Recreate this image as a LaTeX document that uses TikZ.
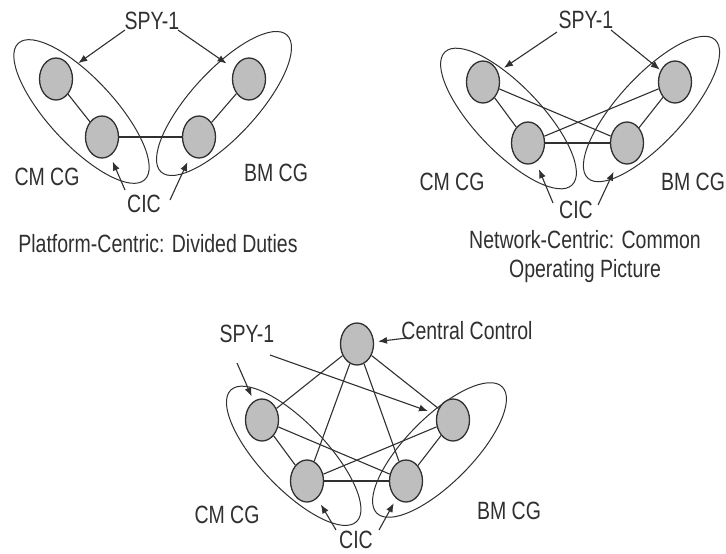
\documentclass[tikz,border=0pt]{standalone}
\usepackage{fontspec}
\setmainfont[FakeStretch=0.78]{Liberation Sans}
\usetikzlibrary{shapes.geometric,arrows.meta}
\definecolor{ink}{HTML}{303030}
\definecolor{disc}{HTML}{BEBEBE}
\begin{document}
\begin{tikzpicture}[x=1pt,y=-1pt,
  station/.style={ellipse, draw=ink, fill=disc, line width=1.3pt,
    minimum width=33pt, minimum height=42pt, inner sep=0pt},
  group/.style={ellipse, draw=ink, line width=1pt, inner sep=0pt,
    minimum height=66pt},
  link/.style={draw=ink, line width=1.1pt},
  trunk/.style={draw=ink, line width=2pt},
  pointer/.style={draw=ink, line width=1.1pt, -{Latex[length=9pt,width=7pt]}},
  lbl/.style={text=ink, font=\fontsize{25}{29}\selectfont, inner sep=0pt},
]
\useasboundingbox (0,0) rectangle (726,554);

% ---------- Platform-centric ----------
\node[group, minimum width=186pt, rotate=-47.2] (g1l) at (81.5,111.5) {};
\node[group, minimum width=186pt, rotate=47.4] (g1r) at (224,103.5) {};
\node[station] (a1) at (56,79) {};
\node[station] (b1) at (102,137) {};
\node[station] (c1) at (199,137) {};
\node[station] (d1) at (249,79) {};
\draw[link] (a1) -- (b1);
\draw[link] (d1) -- (c1);
\draw[link, line width=1.4pt] (b1) -- (c1);
\node[lbl] (spy1) at (152,21) {SPY-1};
\node[lbl] (cm1) at (47,177) {CM CG};
\node[lbl] (bm1) at (276,173) {BM CG};
\node[lbl] (cic1) at (144,204) {CIC};
\node[lbl] (cap1) at (158,244) {Platform-Centric: Divided Duties};
\coordinate (s1l) at (125,30);
\coordinate (s1r) at (178,30);
\coordinate (i1l) at (125,190);
\coordinate (i1r) at (170,200);
\draw[pointer, shorten >=9pt] (s1l) -- (a1);
\draw[pointer, shorten >=9pt] (s1r) -- (d1);
\draw[pointer, shorten >=6pt] (i1l) -- (b1);
\draw[pointer, shorten >=7pt] (i1r) -- (c1);

% ---------- Network-centric ----------
\node[group, minimum width=184pt, rotate=-46.3] (g2l) at (508.5,118.5) {};
\node[group, minimum width=188pt, rotate=47.4] (g2r) at (651.5,109) {};
\node[station] (a2) at (483,82) {};
\node[station] (b2) at (528,143) {};
\node[station] (c2) at (627,143) {};
\node[station] (d2) at (675,82) {};
\draw[link] (a2) -- (b2);
\draw[link] (d2) -- (c2);
\draw[link] (a2) -- (c2);
\draw[link] (b2) -- (d2);
\draw[trunk] (b2) -- (c2);
\node[lbl] (spy2) at (586,20) {SPY-1};
\node[lbl] (cm2) at (452,182) {CM CG};
\node[lbl] (bm2) at (693,182) {BM CG};
\node[lbl] (cic2) at (576,210) {CIC};
\node[lbl] (cap2a) at (585,240) {Network-Centric: Common};
\node[lbl] (cap2b) at (585,271) {Operating Picture};
\coordinate (s2l) at (557,32);
\coordinate (s2r) at (611,30);
\coordinate (i2l) at (553,203);
\coordinate (i2r) at (598,205);
\draw[pointer, shorten >=7pt] (s2l) -- (a2);
\draw[pointer, shorten >=1pt] (s2r) -- (d2);
\draw[pointer, shorten >=7.6pt] (i2l) -- (b2);
\draw[pointer, shorten >=11pt] (i2r) -- (c2);

% ---------- Central control ----------
\node[group, minimum width=182pt, rotate=-46.3] (g3l) at (293.7,455.8) {};
\node[group, minimum width=178pt, rotate=45.2] (g3r) at (439.5,450) {};
\node[station] (cc) at (357,344) {};
\node[station] (a3) at (262,420) {};
\node[station] (b3) at (307,481) {};
\node[station] (c3) at (406,481) {};
\node[station] (d3) at (453,420) {};
\draw[link] (cc) -- (a3);
\draw[link] (cc) -- (b3);
\draw[link] (cc) -- (c3);
\draw[link] (cc) -- (d3);
\draw[link] (a3) -- (b3);
\draw[link] (a3) -- (c3);
\draw[link] (b3) -- (d3);
\draw[link] (c3) -- (d3);
\draw[trunk] (b3) -- (c3);
\node[lbl] (spy3) at (247,334) {SPY-1};
\node[lbl] (ctl) at (467,331) {Central Control};
\node[lbl] (cm3) at (227,515) {CM CG};
\node[lbl] (bm3) at (509,511) {BM CG};
\node[lbl] (cic3) at (356,540) {CIC};
\coordinate (s3a) at (237,363);
\coordinate (s3b) at (270,355);
\coordinate (k3) at (407,338);
\coordinate (i3l) at (336,530);
\coordinate (i3r) at (379,530);
\draw[pointer, shorten >=5pt] (s3a) -- (a3);
\draw[pointer, shorten >=9pt] (s3b) -- (d3);
\draw[pointer, shorten >=4pt] (k3) -- (cc);
\draw[pointer, shorten >=7pt] (i3l) -- (b3);
\draw[pointer, shorten >=5pt] (i3r) -- (c3);
\end{tikzpicture}
\end{document}
